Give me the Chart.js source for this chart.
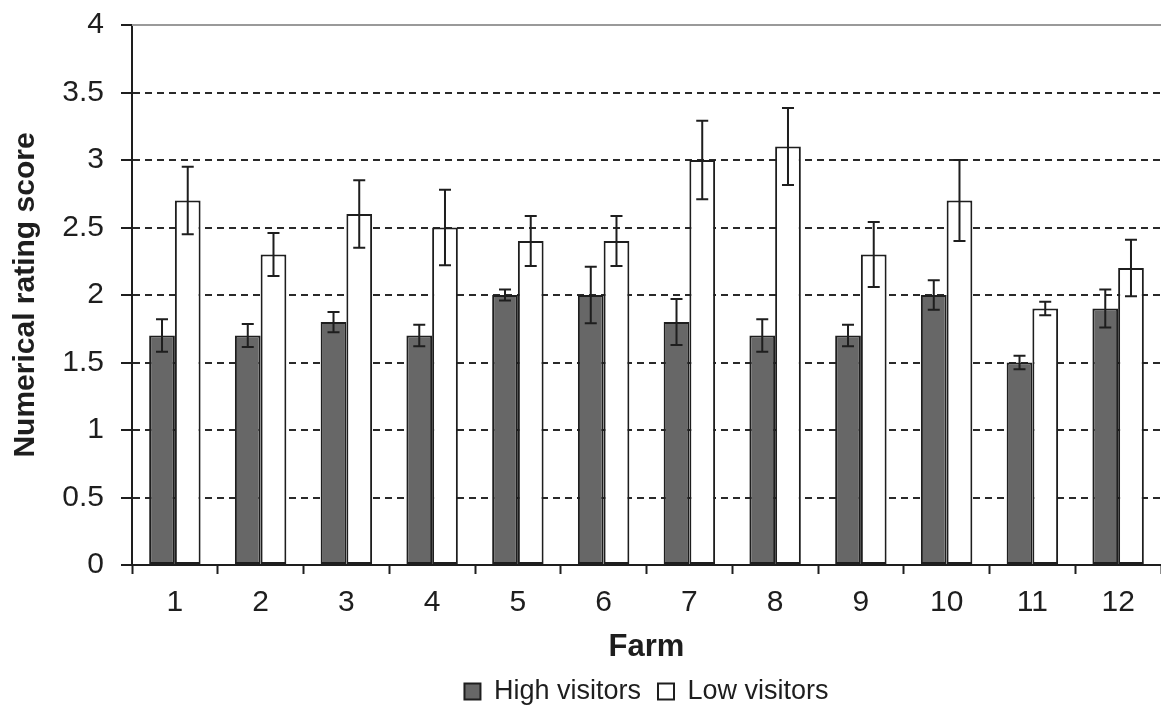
<!DOCTYPE html>
<html>
<head>
<meta charset="utf-8">
<script src="https://cdn.jsdelivr.net/npm/chart.js@4/dist/chart.umd.min.js"></script>
<style>
  html, body { margin: 0; padding: 0; background: #fff; }
  #wrap { width: 1161px; height: 709px; position: relative; }
</style>
</head>
<body>
<div id="wrap"><canvas id="chart"></canvas></div>
<script>
// Farms on the x axis
const farms = ['1', '2', '3', '4', '5', '6', '7', '8', '9', '10', '11', '12'];

// Mean numerical rating score per farm
const highVisitors = [1.7, 1.7, 1.8, 1.7, 2.0, 2.0, 1.8, 1.7, 1.7, 2.0, 1.5, 1.9];
const lowVisitors  = [2.7, 2.3, 2.6, 2.5, 2.4, 2.4, 3.0, 3.1, 2.3, 2.7, 1.9, 2.2];

// Symmetric error (±) for each mean
const highErr = [0.12, 0.085, 0.075, 0.08, 0.04, 0.21, 0.17, 0.12, 0.08, 0.11, 0.05, 0.14];
const lowErr  = [0.25, 0.16, 0.25, 0.28, 0.185, 0.185, 0.29, 0.285, 0.24, 0.30, 0.05, 0.21];

// Y axis tick values
const yTicks = [0, 0.5, 1, 1.5, 2, 2.5, 3, 3.5, 4];

const INK = '#1e1e1e';
const FONT = "'Liberation Sans', Arial, sans-serif";

// Draws the ± error whiskers on top of each bar
const errorBars = {
  id: 'errorBars',
  afterDatasetsDraw(chart) {
    const { ctx } = chart;
    const y = chart.scales.y;
    const errs = [highErr, lowErr];
    ctx.save();
    ctx.strokeStyle = INK;
    ctx.lineWidth = 2;
    chart.data.datasets.forEach((ds, di) => {
      const meta = chart.getDatasetMeta(di);
      meta.data.forEach((bar, i) => {
        const v = ds.data[i], e = errs[di][i];
        const top = y.getPixelForValue(v + e);
        const bot = y.getPixelForValue(v - e);
        const x = bar.x, cap = 6;
        ctx.beginPath();
        ctx.moveTo(x, top); ctx.lineTo(x, bot);
        ctx.moveTo(x - cap, top); ctx.lineTo(x + cap, top);
        ctx.moveTo(x - cap, bot); ctx.lineTo(x + cap, bot);
        ctx.stroke();
      });
    });
    ctx.restore();
  }
};

// Solid grey frame line along the top of the plot
const topLine = {
  id: 'topLine',
  beforeDatasetsDraw(chart) {
    const { ctx, chartArea } = chart;
    const yTop = chart.scales.y.getPixelForValue(4);
    ctx.save();
    ctx.strokeStyle = '#9a9a9a';
    ctx.lineWidth = 2;
    ctx.beginPath();
    ctx.moveTo(chartArea.left, yTop);
    ctx.lineTo(chartArea.right, yTop);
    ctx.stroke();
    ctx.restore();
  }
};

// Center the legend under the plot area and lift its row a little
const legendUnderPlot = {
  id: 'legendUnderPlot',
  afterLayout(chart) {
    const lg = chart.legend, a = chart.chartArea;
    if (!lg) return;
    lg.left = a.left;
    lg.right = a.right;
    lg.width = a.right - a.left;
    lg.top -= 5;
    lg.height += 5;
  }
};

new Chart(document.getElementById('chart'), {
  type: 'bar',
  data: {
    labels: farms,
    datasets: [
      {
        label: 'High visitors',
        data: highVisitors,
        backgroundColor: '#676767',
        borderColor: INK,
        borderWidth: 2,
        borderSkipped: false,
        categoryPercentage: 0.6,
        barPercentage: 1.0
      },
      {
        label: 'Low visitors',
        data: lowVisitors,
        backgroundColor: '#ffffff',
        borderColor: INK,
        borderWidth: 2,
        borderSkipped: false,
        categoryPercentage: 0.6,
        barPercentage: 1.0
      }
    ]
  },
  options: {
    responsive: true,
    maintainAspectRatio: false,
    animation: false,
    layout: { padding: { top: 25, right: 0, left: 0, bottom: 0 } },
    plugins: {
      tooltip: { enabled: false },
      legend: {
        position: 'bottom',
        maxHeight: 43,
        labels: {
          font: { family: FONT, size: 27 },
          color: INK,
          boxWidth: 16,
          boxHeight: 16,
          padding: 17
        }
      }
    },
    scales: {
      x: {
        afterFit(scale) { scale.height = 101; },
        grid: {
          offset: true,
          drawOnChartArea: false,
          drawTicks: true,
          tickLength: 9,
          tickColor: INK,
          tickWidth: 2
        },
        border: { color: INK, width: 2 },
        ticks: {
          font: { family: FONT, size: 30 },
          color: INK,
          padding: 11
        },
        title: {
          display: true,
          text: 'Farm',
          font: { family: FONT, size: 31, weight: 'bold' },
          color: INK,
          padding: { top: 7, bottom: 0 }
        }
      },
      y: {
        min: 0,
        max: 4,
        afterBuildTicks(scale) {
          scale.ticks = yTicks.map(v => ({ value: v }));
        },
        afterFit(scale) {
          scale.width = 132;
          scale.paddingTop = 0;
          scale.paddingBottom = 0;
        },
        grid: {
          color: ctx => (ctx.tick && (ctx.tick.value === 0 || ctx.tick.value === 4)) ? 'rgba(0,0,0,0)' : '#2a2a2a',
          lineWidth: 2,
          drawTicks: true,
          tickLength: 11,
          tickColor: INK,
          tickWidth: 2,
          tickBorderDash: []
        },
        border: { color: INK, width: 2, dash: [7, 5] },
        ticks: {
          font: { family: FONT, size: 30 },
          color: INK,
          padding: 17,
          callback: v => String(v)
        },
        title: {
          display: true,
          text: 'Numerical rating score',
          font: { family: FONT, size: 30, weight: 'bold' },
          color: INK,
          padding: { top: 8, bottom: 0 }
        }
      }
    }
  },
  plugins: [topLine, errorBars, legendUnderPlot]
});
</script>
</body>
</html>
